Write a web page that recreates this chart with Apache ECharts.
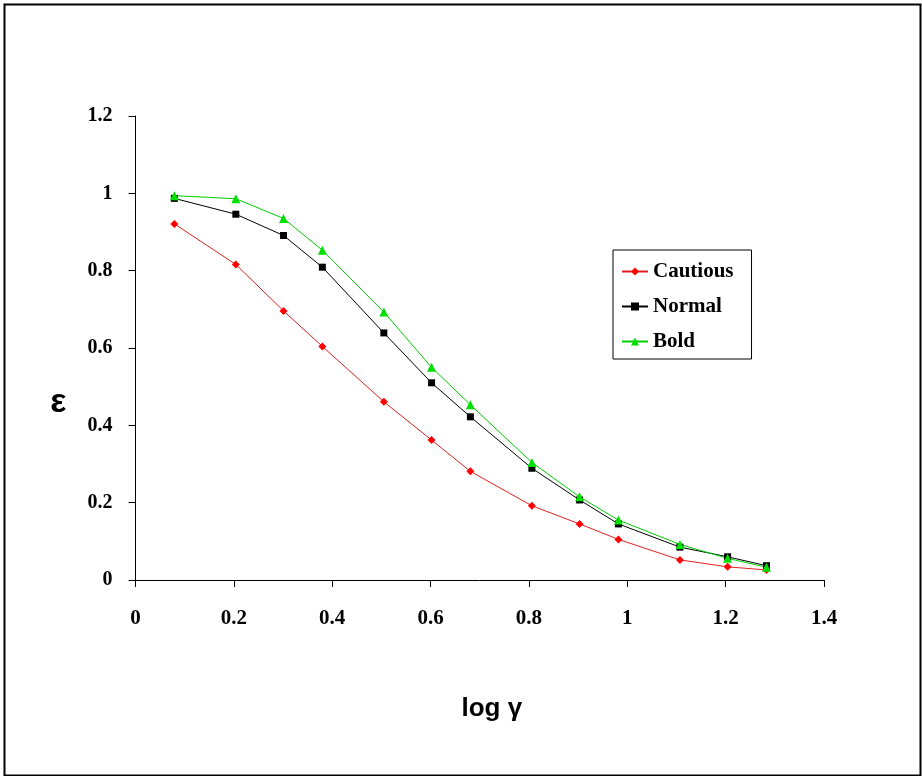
<!DOCTYPE html>
<html>
<head>
<meta charset="utf-8">
<script src="https://cdn.jsdelivr.net/npm/echarts@6/dist/echarts.min.js"></script>
<style>
html,body{margin:0;padding:0;background:#fff;}
#chart{width:922px;height:776px;}
</style>
</head>
<body>
<div id="chart"></div>
<script>
const logGamma = [0.079, 0.204, 0.301, 0.380, 0.505, 0.602, 0.681, 0.806, 0.903, 0.982, 1.107, 1.204, 1.283];
const cautious = [0.921, 0.816, 0.696, 0.604, 0.461, 0.362, 0.281, 0.192, 0.145, 0.105, 0.052, 0.034, 0.026];
const normal   = [0.987, 0.946, 0.891, 0.809, 0.639, 0.510, 0.422, 0.289, 0.207, 0.145, 0.085, 0.060, 0.037];
const bold     = [0.994, 0.986, 0.935, 0.853, 0.693, 0.550, 0.453, 0.304, 0.215, 0.155, 0.092, 0.056, 0.033];
const seriesNames = ['Cautious', 'Normal', 'Bold'];

const pairs = arr => logGamma.map((x, i) => [x, arr[i]]);
const serif = '"Liberation Serif", "Times New Roman", serif';

const chart = echarts.init(document.getElementById('chart'), null, {renderer: 'canvas'});
chart.setOption({
  animation: false,
  backgroundColor: '#fff',
  grid: {left: 135.5, right: 98, top: 116, bottom: 196, containLabel: false},
  legend: {
    orient: 'vertical',
    left: 613, top: 250,
    data: seriesNames,
    itemWidth: 26, itemHeight: 10,
    itemGap: 14,
    padding: [11, 18, 7, 8],
    borderColor: '#000', borderWidth: 1,
    textStyle: {fontFamily: serif, fontWeight: 'bold', fontSize: 21, color: '#000'}
  },
  xAxis: {
    type: 'value', min: 0, max: 1.4, interval: 0.2,
    name: 'log γ', nameLocation: 'middle', nameGap: 116,
    nameTextStyle: {fontFamily: 'Liberation Sans, Arial, sans-serif', fontWeight: 'bold', fontSize: 26, color: '#000', padding: [0, 0, 0, 24]},
    axisLine: {onZero: false, lineStyle: {color: '#000', width: 1}},
    axisTick: {show: true, inside: false, length: 7, lineStyle: {color: '#000'}},
    axisLabel: {margin: 28, fontFamily: serif, fontWeight: 'bold', fontSize: 21, color: '#000',
      formatter: v => String(+v.toFixed(1))},
    splitLine: {show: false}
  },
  yAxis: {
    type: 'value', min: 0, max: 1.2, interval: 0.2,
    name: 'ε', nameLocation: 'middle', nameRotate: 0, nameGap: 69,
    nameTextStyle: {fontFamily: 'Liberation Sans, Arial, sans-serif', fontWeight: 'bold', fontSize: 34, color: '#000',
      verticalAlign: 'top', lineHeight: 110},
    axisLine: {show: true, lineStyle: {color: '#000', width: 1}},
    axisTick: {show: true, inside: false, length: 7, lineStyle: {color: '#000'}},
    axisLabel: {margin: 23, fontFamily: serif, fontWeight: 'bold', fontSize: 20, color: '#000',
      formatter: v => String(+v.toFixed(1))},
    splitLine: {show: false}
  },
  series: [
    {name: seriesNames[0], type: 'line', data: pairs(cautious), symbol: 'diamond', symbolSize: 8,
     itemStyle: {color: '#ff0000'}, lineStyle: {color: '#e02020', width: 1}},
    {name: seriesNames[1], type: 'line', data: pairs(normal), symbol: 'rect', symbolSize: 7,
     itemStyle: {color: '#000'}, lineStyle: {color: '#000', width: 1}},
    {name: seriesNames[2], type: 'line', data: pairs(bold), symbol: 'triangle', symbolSize: 9,
     itemStyle: {color: '#00e000'}, lineStyle: {color: '#00d000', width: 1}}
  ],
  graphic: [{
    type: 'rect', left: 2, top: 2, silent: true,
    shape: {width: 916, height: 771},
    style: {fill: 'none', stroke: '#000', lineWidth: 2}
  }]
});
</script>
</body>
</html>
